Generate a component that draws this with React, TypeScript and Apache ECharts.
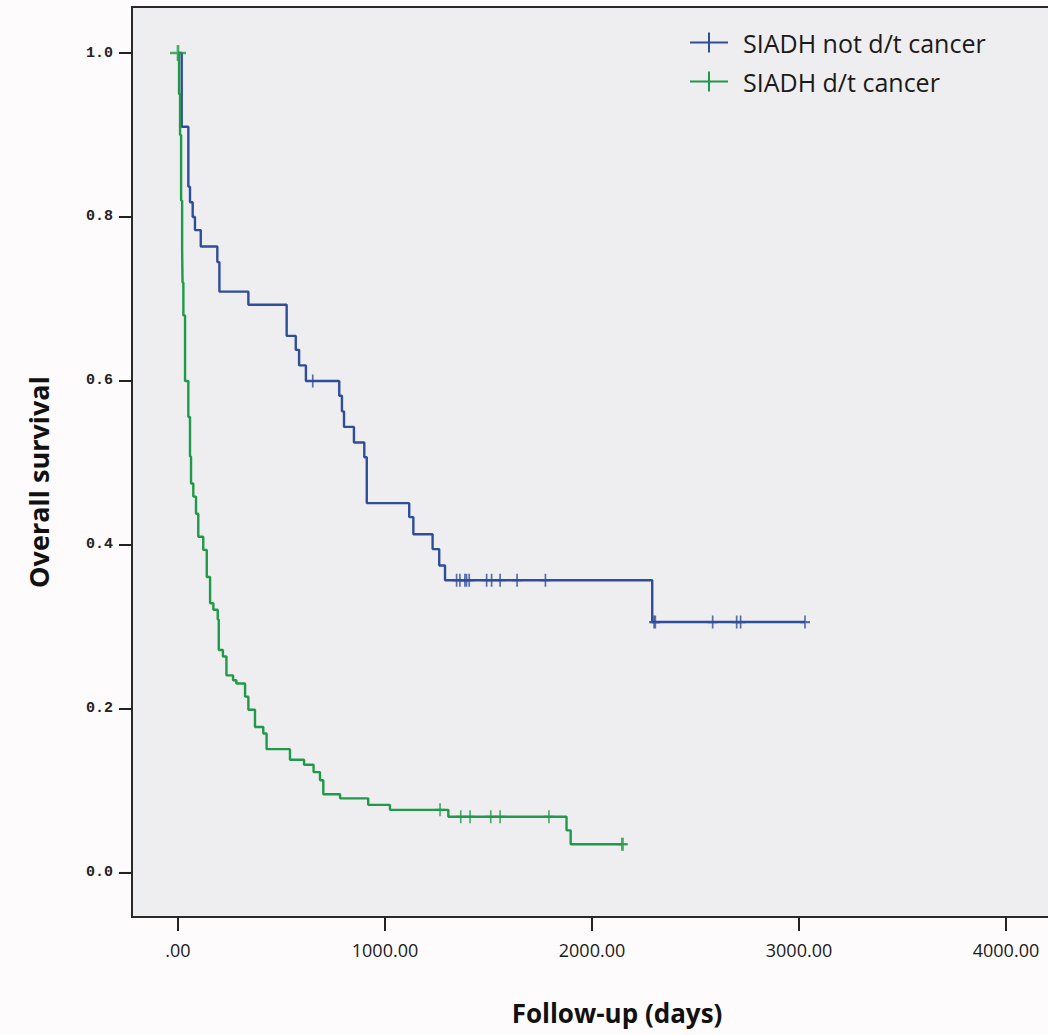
import React, { useEffect, useRef } from "react";
import * as echarts from "echarts";

const seriesNames = ["SIADH not d/t cancer", "SIADH d/t cancer"];
const xTicks = [0, 1000, 2000, 3000, 4000];
const yTicks = [0, 0.2, 0.4, 0.6, 0.8, 1.0];
// visible range of the plot frame (the frame extends past the tick range)
const xRange = [-222.2, 4203];
const yRange = [-0.0537, 1.0561];

// SIADH not d/t cancer: Kaplan-Meier step (day of event, survival after event)
const blueDays = [0, 18, 50, 58, 71, 82, 110, 190, 200, 340, 525, 569, 585, 618, 779, 792, 802, 850, 900, 912, 1117, 1137, 1230, 1262, 1290, 2291, 3029];
const blueSurv = [1.0, 0.91, 0.837, 0.818, 0.8, 0.784, 0.764, 0.745, 0.709, 0.693, 0.655, 0.638, 0.619, 0.6, 0.582, 0.563, 0.544, 0.525, 0.507, 0.451, 0.434, 0.413, 0.395, 0.375, 0.357, 0.306, 0.306];
const blueCensorDays = [651, 1346, 1362, 1386, 1394, 1407, 1491, 1515, 1556, 1638, 1775, 2300, 2306, 2583, 2699, 2718, 3029];
const blueCensorSurv = [0.6, 0.357, 0.357, 0.357, 0.357, 0.357, 0.357, 0.357, 0.357, 0.357, 0.357, 0.306, 0.306, 0.306, 0.306, 0.306, 0.306];

// SIADH d/t cancer
const greenDays = [0, 5, 10, 15, 20, 22, 26, 34, 50, 58, 63, 74, 87, 98, 122, 139, 155, 171, 192, 197, 217, 234, 266, 282, 324, 340, 372, 412, 428, 541, 609, 655, 686, 702, 783, 919, 1024, 1306, 1877, 1897, 2144];
const greenSurv = [1.0, 0.95, 0.9, 0.82, 0.76, 0.72, 0.68, 0.6, 0.556, 0.508, 0.475, 0.459, 0.438, 0.41, 0.394, 0.361, 0.329, 0.321, 0.309, 0.272, 0.264, 0.241, 0.235, 0.231, 0.215, 0.199, 0.178, 0.17, 0.151, 0.138, 0.132, 0.123, 0.113, 0.096, 0.091, 0.083, 0.077, 0.0686, 0.052, 0.035, 0.035];
const greenCensorDays = [0, 1266, 1366, 1411, 1511, 1556, 1792, 2144, 2150];
const greenCensorSurv = [1.0, 0.077, 0.0686, 0.0686, 0.0686, 0.0686, 0.0686, 0.035, 0.035];

const BLUE = "#2e4e9a";
const GREEN = "#1f9a48";
const PLUS = "path://M5,0H7V5H12V7H7V12H5V7H0V5H5Z";
const LEGEND_ICON = "path://M0,9H18V0H20V9H38V11H20V20H18V11H0Z";

export default function App() {
  const ref = useRef<HTMLDivElement>(null);
  useEffect(() => {
    if (!ref.current) return;
    const chart = echarts.init(ref.current, null, { renderer: "svg" });
    const pairs = (a: number[], b: number[]) => a.map((d, i) => [d, b[i]]);
    chart.setOption({
      animation: false,
      grid: { left: 132, top: 7, width: 916, height: 910 },
      graphic: [
        {
          type: "rect",
          z: -20,
          silent: true,
          shape: { x: 0, y: 0, width: 1048, height: 1035 },
          style: { fill: "#fdfbfc" },
        },
        {
          type: "rect",
          z: -10,
          silent: true,
          shape: { x: 132, y: 7, width: 940, height: 910 },
          style: { fill: "#eeedef", stroke: "#2a2a2a", lineWidth: 2 },
        },
        {
          type: "text",
          x: 617,
          y: 1013,
          style: {
            text: "Follow-up (days)",
            fontFamily: "Open Sans",
            fontWeight: "bold",
            fontSize: 26,
            fill: "#111",
            align: "center",
            verticalAlign: "middle",
          },
        },
        {
          type: "text",
          x: 38,
          y: 482,
          rotation: Math.PI / 2,
          style: {
            text: "Overall survival",
            fontFamily: "Open Sans",
            fontWeight: "bold",
            fontSize: 27,
            fill: "#111",
            align: "center",
            verticalAlign: "middle",
          },
        },
      ],
      legend: {
        data: seriesNames,
        orient: "vertical",
        left: 690,
        top: 30,
        padding: 0,
        itemWidth: 38,
        itemHeight: 20,
        itemGap: 14,
        icon: LEGEND_ICON,
        textStyle: {
          fontFamily: "Open Sans",
          fontSize: 25,
          lineHeight: 25,
          color: "#1a1a1a",
          padding: [0, 0, 0, 10],
        },
      },
      xAxis: {
        type: "value",
        position: "bottom",
        min: xRange[0],
        max: xRange[1],
        axisLine: { show: true, onZero: false, lineStyle: { color: "#2a2a2a", width: 2 } },
        axisTick: {
          show: true,
          inside: false,
          length: 14,
          customValues: xTicks,
          lineStyle: { color: "#222", width: 2 },
        },
        splitLine: { show: false },
        axisLabel: {
          margin: 24,
          customValues: xTicks,
          fontFamily: "Open Sans",
          fontSize: 18,
          color: "#1a1a1a",
          formatter: (v: number) => (v === 0 ? ".00" : v.toFixed(2)),
        },
      },
      yAxis: {
        type: "value",
        position: "left",
        min: yRange[0],
        max: yRange[1],
        axisLine: { show: true, onZero: false, lineStyle: { color: "#2a2a2a", width: 2 } },
        axisTick: {
          show: true,
          inside: false,
          length: 13,
          customValues: yTicks,
          lineStyle: { color: "#222", width: 2 },
        },
        splitLine: { show: false },
        axisLabel: {
          margin: 19,
          customValues: yTicks,
          fontFamily: "Liberation Mono",
          fontWeight: "bold",
          fontSize: 15,
          color: "#222",
          formatter: (v: number) => v.toFixed(1),
        },
      },
      series: [
        {
          name: seriesNames[0],
          type: "line",
          step: "end",
          showSymbol: false,
          color: BLUE,
          lineStyle: { color: BLUE, width: 2.4 },
          data: pairs(blueDays, blueSurv),
          z: 3,
        },
        {
          name: seriesNames[1],
          type: "line",
          step: "end",
          showSymbol: false,
          color: GREEN,
          lineStyle: { color: GREEN, width: 2.4 },
          data: pairs(greenDays, greenSurv),
          z: 4,
        },
        {
          name: "blue-censored",
          type: "scatter",
          symbol: PLUS,
          symbolSize: [10, 13],
          itemStyle: { color: BLUE },
          data: pairs(blueCensorDays, blueCensorSurv),
          z: 5,
        },
        {
          name: "green-censored",
          type: "scatter",
          symbol: PLUS,
          symbolSize: (v: number[]) => (v[0] === 0 ? [16, 16] : [10, 13]),
          itemStyle: { color: GREEN },
          data: pairs(greenCensorDays, greenCensorSurv),
          z: 6,
        },
        {
          name: "axis-ticks",
          type: "custom",
          silent: true,
          clip: false,
          z: 8,
          data: [
            ...xTicks.map((t) => [0, t]),
            ...yTicks.map((t) => [1, t]),
          ],
          renderItem: (params: any, api: any) => {
            const kind = api.value(0);
            const v = api.value(1);
            if (kind === 0) {
              const p = api.coord([v, yRange[0]]);
              return {
                type: "line",
                shape: { x1: p[0], y1: p[1], x2: p[0], y2: p[1] + 14 },
                style: { stroke: "#222", lineWidth: 2 },
              };
            }
            const p = api.coord([xRange[0], v]);
            return {
              type: "line",
              shape: { x1: p[0] - 13, y1: p[1], x2: p[0], y2: p[1] },
              style: { stroke: "#222", lineWidth: 2 },
            };
          },
        },
      ],
    });
    return () => chart.dispose();
  }, []);
  return (
    <div
      ref={ref}
      style={{
        position: "fixed",
        left: 0,
        top: 0,
        width: 1048,
        height: 1035,
        background: "#fdfbfc",
      }}
    />
  );
}
